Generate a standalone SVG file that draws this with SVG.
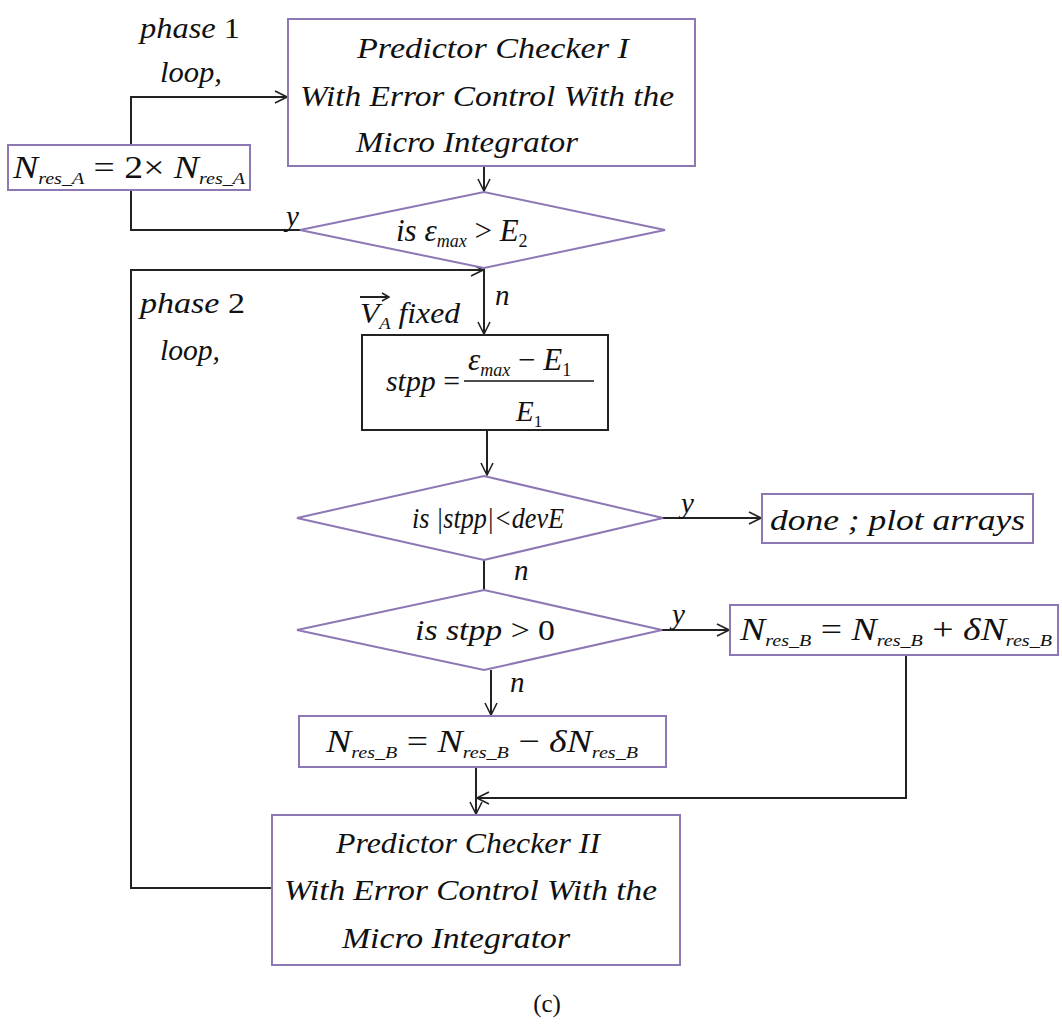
<svg xmlns="http://www.w3.org/2000/svg" width="1062" height="1030" viewBox="0 0 1062 1030">
<defs>
<marker id="arr" markerWidth="14" markerHeight="14" refX="13" refY="7" orient="auto" markerUnits="userSpaceOnUse">
<path d="M1,1 L13,7 L1,13" fill="none" stroke="#222" stroke-width="1.6"/>
</marker>
<style>
.box{fill:#fff;stroke:#8e77b5;stroke-width:2}
.bbox{fill:#fff;stroke:#222;stroke-width:2}
.ln{fill:none;stroke:#222;stroke-width:2}
.t{font-family:"Liberation Serif","DejaVu Serif",serif;font-style:italic;font-size:29px;fill:#111}
.m{font-family:"Liberation Serif","DejaVu Serif",serif;font-style:italic;font-size:32px;fill:#111}
.up{font-family:"Liberation Serif","DejaVu Serif",serif;font-style:normal;fill:#111}
.s{font-size:17px}
.c{font-family:"Liberation Serif","DejaVu Serif",serif;font-size:25px;fill:#111}
</style>
</defs>
<g id="connectors">
<path class="ln" d="M131,145 L131,97 L287,97" marker-end="url(#arr)"/>
<path class="ln" d="M131,190 L131,230 L300,230"/>
<path class="ln" d="M484,166 L484,191" marker-end="url(#arr)"/>
<path class="ln" d="M272,888 L131,888 L131,270 L483,270" marker-end="url(#arr)"/>
<path class="ln" d="M484,268 L484,334" marker-end="url(#arr)"/>
<path class="ln" d="M487,430 L487,475" marker-end="url(#arr)"/>
<path class="ln" d="M663,518 L761,518" marker-end="url(#arr)"/>
<path class="ln" d="M484,560 L484,590"/>
<path class="ln" d="M662,630 L729,630" marker-end="url(#arr)"/>
<path class="ln" d="M491,670 L491,715" marker-end="url(#arr)"/>
<path class="ln" d="M476,767 L476,814" marker-end="url(#arr)"/>
<path class="ln" d="M906,655 L906,798 L477,798" marker-end="url(#arr)"/>
</g>
<g id="labels">
<text class="t" x="140" y="38" textLength="100" lengthAdjust="spacingAndGlyphs">phase <tspan class="up">1</tspan></text>
<text class="t" x="160" y="82" textLength="62" lengthAdjust="spacingAndGlyphs">loop,</text>
<text class="t" x="286" y="226">y</text>
<text class="t" x="140" y="313" textLength="105" lengthAdjust="spacingAndGlyphs">phase <tspan class="up">2</tspan></text>
<text class="t" x="160" y="360" textLength="60" lengthAdjust="spacingAndGlyphs">loop,</text>
<g id="va">
<text class="t" x="360" y="323" textLength="100" lengthAdjust="spacingAndGlyphs">V<tspan class="s" dy="6">A</tspan><tspan dy="-6"> fixed</tspan></text>
<path class="ln" d="M360,297 L388,297" stroke-width="1.5"/>
<path d="M382,293 L389,297 L382,301" fill="none" stroke="#222" stroke-width="1.5"/>
</g>
<text class="t" x="495" y="305">n</text>
<text class="t" x="681" y="513">y</text>
<text class="t" x="514" y="580">n</text>
<text class="t" x="672" y="624">y</text>
<text class="t" x="510" y="692">n</text>
</g>
<g id="pc1">
<rect class="box" x="288" y="19" width="407" height="147"/>
<text class="t" x="357" y="58" textLength="272" lengthAdjust="spacingAndGlyphs">Predictor Checker  I</text>
<text class="t" x="300" y="106" textLength="374" lengthAdjust="spacingAndGlyphs">With Error Control With the</text>
<text class="t" x="356" y="152" textLength="222" lengthAdjust="spacingAndGlyphs">Micro Integrator</text>
</g>
<g id="nresA">
<rect class="box" x="8" y="145" width="242" height="45"/>
<text class="m" x="13" y="178" textLength="232" lengthAdjust="spacingAndGlyphs">N<tspan class="s" dy="6">res_A</tspan><tspan class="up" dy="-6"> = 2× </tspan>N<tspan class="s" dy="6">res_A</tspan></text>
</g>
<g id="d1">
<polygon class="box" points="300,230 484,192 665,230 484,268"/>
<text class="t" x="396" y="241" style="font-size:31px">is  ε<tspan style="font-size:18px" dy="6">max</tspan><tspan class="up" dy="-6"> &gt; </tspan>E<tspan class="up" style="font-size:18px" dy="6">2</tspan></text>
</g>
<g id="stpp">
<rect class="bbox" x="362" y="335" width="246" height="95"/>
<text class="t" x="386" y="391" textLength="74" lengthAdjust="spacingAndGlyphs">stpp<tspan class="up"> = </tspan></text>
<text class="t" x="468" y="370" style="font-size:31px">ε<tspan style="font-size:18px" dy="6">max</tspan><tspan class="up" dy="-6"> − </tspan>E<tspan class="up" style="font-size:18px" dy="6">1</tspan></text>
<path d="M464,381 L594,381" stroke="#111" stroke-width="1.6"/>
<text class="t" x="516" y="421">E<tspan class="up s" dy="6">1</tspan></text>
</g>
<g id="d2">
<polygon class="box" points="297,518 484,476 663,518 484,560"/>
<text class="t" x="412" y="528" textLength="152" lengthAdjust="spacingAndGlyphs" style="font-size:30px">is |stpp|&lt;devE</text>
</g>
<g id="done">
<rect class="box" x="762" y="494" width="271" height="49"/>
<text class="t" x="770" y="530" textLength="255" lengthAdjust="spacingAndGlyphs">done ;  plot arrays</text>
</g>
<g id="d3">
<polygon class="box" points="297,630 484,590 662,630 484,670"/>
<text class="t" x="415" y="640" textLength="140" lengthAdjust="spacingAndGlyphs">is stpp<tspan class="up"> &gt; 0</tspan></text>
</g>
<g id="plusB">
<rect class="box" x="730" y="605" width="328" height="50"/>
<text class="m" x="740" y="640" textLength="312" lengthAdjust="spacingAndGlyphs">N<tspan class="s" dy="6">res_B</tspan><tspan class="up" dy="-6"> = </tspan>N<tspan class="s" dy="6">res_B</tspan><tspan class="up" dy="-6"> + </tspan>δN<tspan class="s" dy="6">res_B</tspan></text>
</g>
<g id="minusB">
<rect class="box" x="299" y="716" width="367" height="51"/>
<text class="m" x="326" y="752" textLength="312" lengthAdjust="spacingAndGlyphs">N<tspan class="s" dy="6">res_B</tspan><tspan class="up" dy="-6"> = </tspan>N<tspan class="s" dy="6">res_B</tspan><tspan class="up" dy="-6"> − </tspan>δN<tspan class="s" dy="6">res_B</tspan></text>
</g>
<g id="pc2">
<rect class="box" x="272" y="815" width="408" height="150"/>
<text class="t" x="336" y="853" textLength="264" lengthAdjust="spacingAndGlyphs">Predictor Checker II</text>
<text class="t" x="284" y="900" textLength="373" lengthAdjust="spacingAndGlyphs">With Error Control With the</text>
<text class="t" x="342" y="948" textLength="228" lengthAdjust="spacingAndGlyphs">Micro Integrator</text>
</g>
<text class="c" x="547" y="1012" text-anchor="middle">(c)</text>
</svg>
